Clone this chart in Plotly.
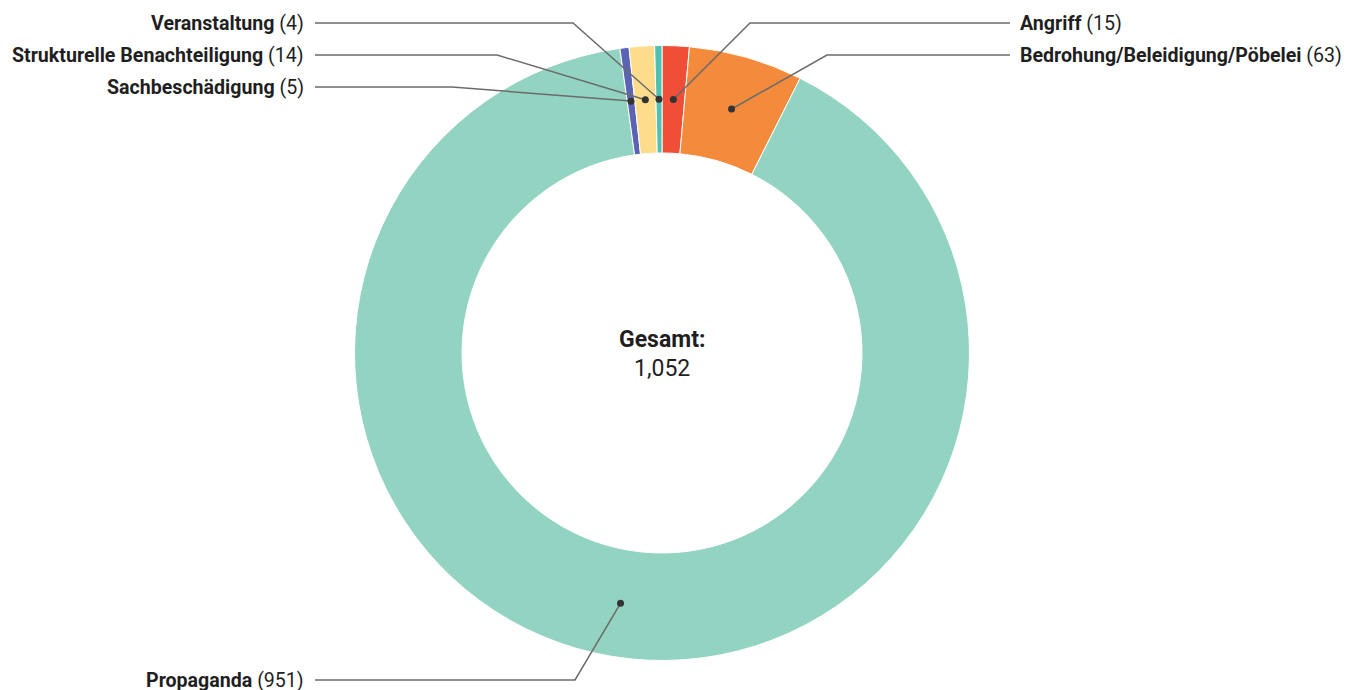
import math

import plotly.graph_objects as go

# Daten (im Uhrzeigersinn ab 12 Uhr)
kategorien = [
    "Angriff",
    "Bedrohung/Beleidigung/Pöbelei",
    "Propaganda",
    "Sachbeschädigung",
    "Strukturelle Benachteiligung",
    "Veranstaltung",
]
anzahl = [15, 63, 951, 5, 14, 4]
farben = ["#ef4f36", "#f48b3c", "#93d3c2", "#5b63b4", "#fddd8b", "#4fc1ae"]
gesamt_text = "1,052"

# Geometrie in Bildschirm-Pixeln; die Seite hat 8px Rand (body margin)
W, H = 1360, 690
OFF = 8
cx, cy = 662, 353
r_aussen = 307.5
r_innen = 200
r_punkt = (r_aussen + r_innen) / 2

# Position der Beschriftungen: (Seite, y der Linie, x des Knicks)
label_pos = {
    "Angriff": ("rechts", 23, 750),
    "Bedrohung/Beleidigung/Pöbelei": ("rechts", 55, 827),
    "Propaganda": ("links", 680, 575),
    "Sachbeschädigung": ("links", 87, 452),
    "Strukturelle Benachteiligung": ("links", 55, 497),
    "Veranstaltung": ("links", 23, 573),
}
x_links, x_rechts = 315, 1010

fig = go.Figure()

fig.add_trace(
    go.Pie(
        labels=kategorien,
        values=anzahl,
        hole=r_innen / r_aussen,
        sort=False,
        direction="clockwise",
        rotation=0,
        marker=dict(colors=farben, line=dict(color="white", width=1)),
        textinfo="none",
        hoverinfo="label+value",
        showlegend=False,
        domain=dict(
            x=[(cx - OFF - r_aussen) / W, (cx - OFF + r_aussen) / W],
            y=[(H - (cy - OFF) - r_aussen) / H, (H - (cy - OFF) + r_aussen) / H],
        ),
    )
)

shapes = []
annotations = []
summe = sum(anzahl)
kum = 0
for name, wert in zip(kategorien, anzahl):
    mitte = (kum + wert / 2) / summe
    kum += wert
    winkel = 2 * math.pi * mitte
    px = cx + r_punkt * math.sin(winkel)
    py = cy - r_punkt * math.cos(winkel)

    seite, ly, knick = label_pos[name]
    ende = x_links if seite == "links" else x_rechts
    shapes.append(
        dict(
            type="path",
            path=f"M {px:.1f},{py:.1f} L {knick},{ly} L {ende},{ly}",
            xref="x",
            yref="y",
            line=dict(color="#6b6b6b", width=1.5),
            layer="above",
        )
    )
    shapes.append(
        dict(
            type="circle",
            xref="x",
            yref="y",
            x0=px - 3.5,
            x1=px + 3.5,
            y0=py - 3.5,
            y1=py + 3.5,
            fillcolor="#333333",
            line=dict(width=0),
            layer="above",
        )
    )
    annotations.append(
        dict(
            x=ende - 9 if seite == "links" else ende + 8,
            y=ly,
            xref="x",
            yref="y",
            text=f"<b>{name}</b> ({wert})",
            showarrow=False,
            xanchor="right" if seite == "links" else "left",
            yanchor="middle",
            font=dict(family="Roboto", size=19.6, color="#1f1f1f"),
        )
    )

# Mitte
annotations.append(
    dict(x=cx, y=339, xref="x", yref="y", text="<b>Gesamt:</b>", showarrow=False,
         font=dict(family="Roboto", size=23, color="#1f1f1f"))
)
annotations.append(
    dict(x=cx, y=368, xref="x", yref="y", text=gesamt_text, showarrow=False,
         font=dict(family="Roboto", size=23, color="#1f1f1f"))
)

fig.update_layout(
    width=W,
    height=H,
    margin=dict(l=0, r=0, t=0, b=0),
    paper_bgcolor="white",
    plot_bgcolor="rgba(0,0,0,0)",
    xaxis=dict(range=[OFF, W + OFF], visible=False, fixedrange=True),
    yaxis=dict(range=[H + OFF, OFF], visible=False, fixedrange=True),
    shapes=shapes,
    annotations=annotations,
    showlegend=False,
)

fig.write_html("out.html")
